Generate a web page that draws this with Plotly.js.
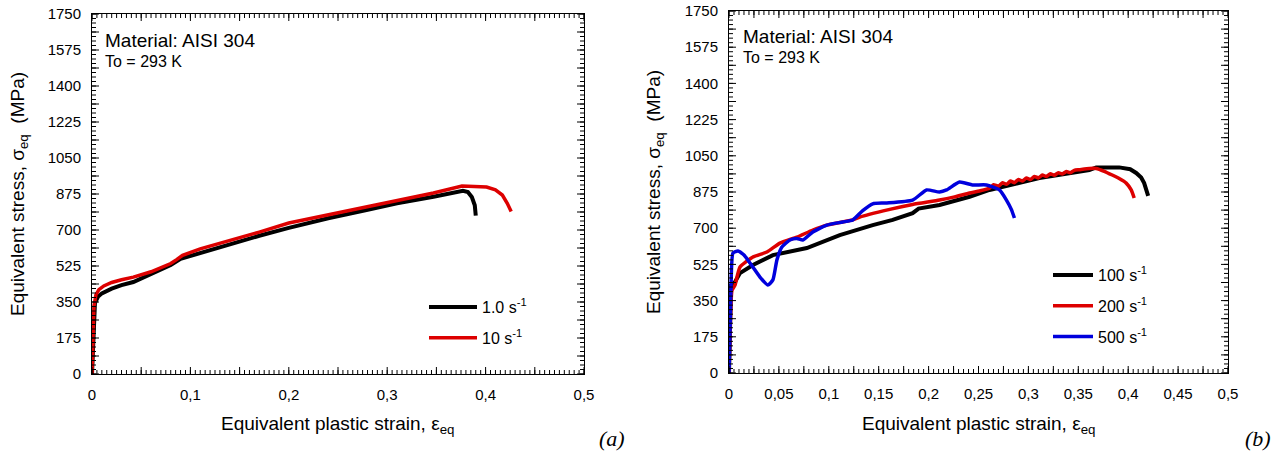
<!DOCTYPE html>
<html>
<head>
<meta charset="utf-8">
<script src="https://cdn.plot.ly/plotly-3.0.1.min.js"></script>
<style>
html,body{margin:0;padding:0;background:#fff;}
#chart{width:1284px;height:457px;}
</style>
</head>
<body>
<div id="chart"></div>
<script>
// ---- Data: panel (a) ----
const a_1_strain = [0, 0.001, 0.002, 0.003, 0.006, 0.01, 0.02, 0.03, 0.042, 0.06, 0.08, 0.09, 0.11, 0.14, 0.17, 0.2, 0.211, 0.24, 0.279, 0.31, 0.347, 0.365, 0.377, 0.382, 0.386, 0.389, 0.39];
const a_1_stress = [0, 150, 300, 345, 375, 392, 415, 432, 447, 485, 530, 560, 588, 632, 672, 710, 724, 757, 797, 830, 862, 877, 890, 885, 860, 820, 770];
const a_10_strain = [0, 0.001, 0.002, 0.004, 0.007, 0.012, 0.02, 0.03, 0.042, 0.06, 0.08, 0.086, 0.092, 0.11, 0.14, 0.17, 0.2, 0.232, 0.279, 0.31, 0.347, 0.376, 0.39, 0.401, 0.41, 0.417, 0.422, 0.426];
const a_10_stress = [0, 160, 330, 385, 410, 428, 445, 458, 471, 497, 537, 556, 577, 608, 648, 690, 734, 765, 813, 843, 880, 914, 913, 909, 895, 870, 830, 790];

// ---- Data: panel (b) ----
const b_100_strain = [0, 0.001, 0.002, 0.006, 0.011, 0.024, 0.044, 0.078, 0.091, 0.111, 0.144, 0.164, 0.184, 0.19, 0.211, 0.241, 0.261, 0.311, 0.361, 0.368, 0.391, 0.402, 0.408, 0.413, 0.416, 0.42];
const b_100_stress = [0, 200, 425, 440, 483, 522, 570, 604, 628, 667, 715, 740, 773, 795, 812, 852, 885, 942, 981, 994, 994, 985, 967, 945, 918, 856];
const b_200_strain = [0, 0.001, 0.003, 0.006, 0.011, 0.024, 0.038, 0.051, 0.068, 0.084, 0.098, 0.124, 0.131, 0.16, 0.184, 0.211, 0.225, 0.241, 0.251, 0.261, 0.265, 0.27, 0.274, 0.278, 0.282, 0.286, 0.29, 0.294, 0.298, 0.302, 0.306, 0.31, 0.314, 0.318, 0.322, 0.326, 0.33, 0.334, 0.338, 0.342, 0.346, 0.351, 0.361, 0.368, 0.376, 0.384, 0.391, 0.398, 0.403, 0.406];
const b_200_stress = [0, 180, 400, 425, 512, 561, 585, 628, 657, 691, 715, 740, 754, 790, 815, 836, 850, 870, 880, 893, 910, 903, 920, 912, 928, 920, 936, 928, 943, 935, 950, 943, 957, 950, 963, 956, 968, 962, 974, 968, 980, 983, 989, 989, 975, 957, 940, 918, 885, 846];
const b_500_strain = [0, 0.001, 0.002, 0.004, 0.009, 0.015, 0.021, 0.031, 0.039, 0.044, 0.048, 0.053, 0.061, 0.068, 0.074, 0.084, 0.098, 0.114, 0.124, 0.134, 0.144, 0.157, 0.184, 0.198, 0.211, 0.218, 0.231, 0.244, 0.258, 0.271, 0.278, 0.283, 0.286];
const b_500_stress = [0, 200, 420, 580, 590, 570, 532, 464, 425, 450, 546, 609, 643, 650, 643, 682, 715, 730, 740, 785, 818, 822, 836, 885, 875, 885, 923, 909, 909, 885, 836, 790, 749];

// ---- Tick labels ----
const yTickVals = [0, 87.5, 175, 262.5, 350, 437.5, 525, 612.5, 700, 787.5, 875, 962.5, 1050, 1137.5, 1225, 1312.5, 1400, 1487.5, 1575, 1662.5, 1750];
const yTickText = ['0', '', '175', '', '350', '', '525', '', '700', '', '875', '', '1050', '', '1225', '', '1400', '', '1575', '', '1750'];
const aXTickVals = [0, 0.05, 0.1, 0.15, 0.2, 0.25, 0.3, 0.35, 0.4, 0.45, 0.5];
const aXTickText = ['0', '', '0,1', '', '0,2', '', '0,3', '', '0,4', '', '0,5'];
const bXTickVals = [0, 0.025, 0.05, 0.075, 0.1, 0.125, 0.15, 0.175, 0.2, 0.225, 0.25, 0.275, 0.3, 0.325, 0.35, 0.375, 0.4, 0.425, 0.45, 0.475, 0.5];
const bXTickText = ['0', '', '0,05', '', '0,1', '', '0,15', '', '0,2', '', '0,25', '', '0,3', '', '0,35', '', '0,4', '', '0,45', '', '0,5'];

const W = 1284, H = 457;
const px = v => v / W;
const py = v => (H - v) / H;
const FONT = 'Liberation Sans, Arial, sans-serif';

const traces = [
  {x: a_1_strain, y: a_1_stress, xaxis: 'x', yaxis: 'y', name: '1.0 s<sup>-1</sup>', legendgroup: 'a1', mode: 'lines', line: {color: '#000000', width: 4}, legend: 'legend'},
  {x: a_10_strain, y: a_10_stress, xaxis: 'x', yaxis: 'y', name: '10 s<sup>-1</sup>', legendgroup: 'a2', mode: 'lines', line: {color: '#dd0000', width: 3.5}, legend: 'legend'},
  {x: b_100_strain, y: b_100_stress, xaxis: 'x2', yaxis: 'y2', name: '100 s<sup>-1</sup>', legendgroup: 'b1', mode: 'lines', line: {color: '#000000', width: 4}, legend: 'legend2'},
  {x: b_200_strain, y: b_200_stress, xaxis: 'x2', yaxis: 'y2', name: '200 s<sup>-1</sup>', legendgroup: 'b2', mode: 'lines', line: {color: '#dd0000', width: 3.5, shape: 'spline', smoothing: 0.5}, legend: 'legend2'},
  {x: b_500_strain, y: b_500_stress, xaxis: 'x2', yaxis: 'y2', name: '500 s<sup>-1</sup>', legendgroup: 'b3', mode: 'lines', line: {color: '#0000dd', width: 3.5, shape: 'spline', smoothing: 0.5}, legend: 'legend2'}
];

// Plot-area edges in pixels
const A = {l: 92, r: 584, b: 374, t: 14};
const B = {l: 729, r: 1228, b: 373, t: 11};

function xAxis(box, vals, text, anchor) {
  return {
    domain: [px(box.l), px(box.r)], range: [0, 0.5], anchor: anchor,
    tickmode: 'array', tickvals: vals, ticktext: text,
    ticks: '', showline: true, linecolor: '#000', linewidth: 1, mirror: true,
    showgrid: false, zeroline: false,
    tickfont: {family: FONT, size: 15, color: '#000'},
    ticklabelstandoff: 7, fixedrange: true
  };
}
function yAxis(box, anchor) {
  return {
    domain: [py(box.b), py(box.t)], range: [0, 1750], anchor: anchor,
    tickmode: 'array', tickvals: yTickVals, ticktext: yTickText,
    ticks: '', showline: true, linecolor: '#000', linewidth: 1, mirror: true,
    showgrid: false, zeroline: false,
    tickfont: {family: FONT, size: 15, color: '#000'},
    ticklabelstandoff: 7, fixedrange: true
  };
}

// Tick marks drawn as path shapes (inside ticks on all four sides)
const MAJOR = 7, MINOR = 4;
function xTickShape(xref, box, majorVals, minorStep, nMinor) {
  const yb = py(box.b), yt = py(box.t);
  const segs = [];
  const add = (v, len) => {
    const d = len / H;
    segs.push('M' + v + ',' + yb + 'L' + v + ',' + (yb + d));
    segs.push('M' + v + ',' + yt + 'L' + v + ',' + (yt - d));
  };
  for (let i = 0; i <= nMinor; i++) add(+(i * minorStep).toFixed(6), MINOR);
  majorVals.forEach(v => add(v, MAJOR));
  return {type: 'path', xref: xref, yref: 'paper', path: segs.join(''), line: {color: '#000', width: 1}, layer: 'above'};
}
function yTickShape(yref, box, majorVals, minorStep, nMinor) {
  const xl = px(box.l), xr = px(box.r);
  const segs = [];
  const add = (v, len) => {
    const d = len / W;
    segs.push('M' + xl + ',' + v + 'L' + (xl + d) + ',' + v);
    segs.push('M' + xr + ',' + v + 'L' + (xr - d) + ',' + v);
  };
  for (let i = 0; i <= nMinor; i++) add(+(i * minorStep).toFixed(4), MINOR);
  majorVals.forEach(v => add(v, MAJOR));
  return {type: 'path', xref: 'paper', yref: yref, path: segs.join(''), line: {color: '#000', width: 1}, layer: 'above'};
}

const legendFont = {family: FONT, size: 16, color: '#000'};
const layout = {
  width: W, height: H,
  margin: {l: 0, r: 0, t: 0, b: 0},
  showlegend: true,
  xaxis: xAxis(A, aXTickVals, aXTickText, 'y'),
  yaxis: yAxis(A, 'x'),
  xaxis2: xAxis(B, bXTickVals, bXTickText, 'y2'),
  yaxis2: yAxis(B, 'x2'),
  shapes: [
    xTickShape('x', A, aXTickVals, 0.005, 100),
    yTickShape('y', A, yTickVals, 21.875, 80),
    xTickShape('x2', B, bXTickVals, 0.005, 100),
    yTickShape('y2', B, yTickVals, 21.875, 80)
  ],
  legend: {x: px(424), y: py(290), xanchor: 'left', yanchor: 'top', bgcolor: 'rgba(0,0,0,0)', borderwidth: 0, font: legendFont, tracegroupgap: 7, itemwidth: 48},
  legend2: {x: px(1048), y: py(258), xanchor: 'left', yanchor: 'top', bgcolor: 'rgba(0,0,0,0)', borderwidth: 0, font: legendFont, tracegroupgap: 7, itemwidth: 40},
  annotations: [
    {text: 'Material: AISI 304', xref: 'paper', yref: 'paper', x: px(103), y: py(41), xanchor: 'left', yanchor: 'middle', showarrow: false, font: {family: FONT, size: 19, color: '#000'}},
    {text: 'To = 293 K', xref: 'paper', yref: 'paper', x: px(103), y: py(62), xanchor: 'left', yanchor: 'middle', showarrow: false, font: {family: FONT, size: 16, color: '#000'}},
    {text: 'Material: AISI 304', xref: 'paper', yref: 'paper', x: px(741), y: py(36), xanchor: 'left', yanchor: 'middle', showarrow: false, font: {family: FONT, size: 19, color: '#000'}},
    {text: 'To = 293 K', xref: 'paper', yref: 'paper', x: px(741), y: py(57), xanchor: 'left', yanchor: 'middle', showarrow: false, font: {family: FONT, size: 16, color: '#000'}},
    {text: 'Equivalent stress, σ<sub>eq</sub>  (MPa)', xref: 'paper', yref: 'paper', x: px(19), y: py(194), textangle: -90, xanchor: 'center', yanchor: 'middle', showarrow: false, font: {family: FONT, size: 19, color: '#000'}},
    {text: 'Equivalent stress, σ<sub>eq</sub>  (MPa)', xref: 'paper', yref: 'paper', x: px(655), y: py(192), textangle: -90, xanchor: 'center', yanchor: 'middle', showarrow: false, font: {family: FONT, size: 19, color: '#000'}},
    {text: 'Equivalent plastic strain, ε<sub>eq</sub>', xref: 'paper', yref: 'paper', x: px(338), y: py(425), xanchor: 'center', yanchor: 'middle', showarrow: false, font: {family: FONT, size: 19, color: '#000'}},
    {text: 'Equivalent plastic strain, ε<sub>eq</sub>', xref: 'paper', yref: 'paper', x: px(978), y: py(425), xanchor: 'center', yanchor: 'middle', showarrow: false, font: {family: FONT, size: 19, color: '#000'}},
    {text: '<i>(a)</i>', xref: 'paper', yref: 'paper', x: px(612), y: py(438), xanchor: 'center', yanchor: 'middle', showarrow: false, font: {family: 'Liberation Serif, Times New Roman, serif', size: 22, color: '#000'}},
    {text: '<i>(b)</i>', xref: 'paper', yref: 'paper', x: px(1258), y: py(438), xanchor: 'center', yanchor: 'middle', showarrow: false, font: {family: 'Liberation Serif, Times New Roman, serif', size: 22, color: '#000'}}
  ]
};

Plotly.newPlot('chart', traces, layout, {staticPlot: true, displayModeBar: false});
</script>
</body>
</html>
